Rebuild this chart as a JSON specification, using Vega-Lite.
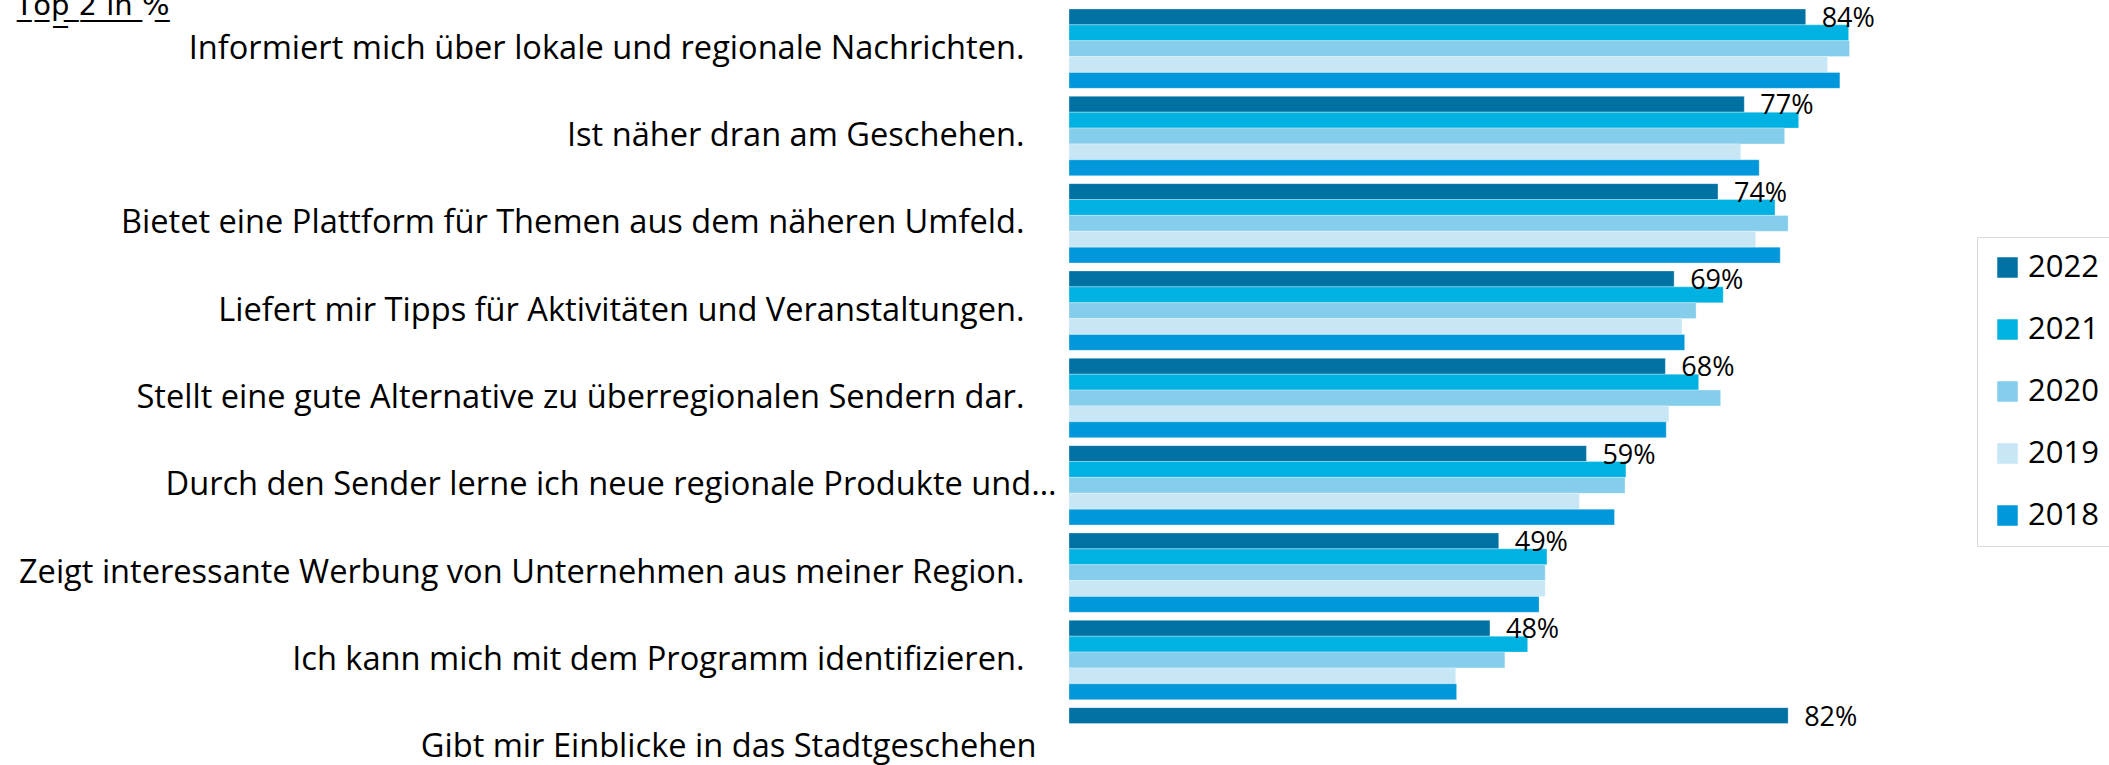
{
  "$schema": "https://vega.github.io/schema/vega-lite/v6.json",
  "width": 877,
  "height": 756,
  "autosize": {"type": "none"},
  "padding": {"left": 1069, "top": 9, "right": 163, "bottom": 0},
  "background": "white",
  "config": {"view": {"stroke": null}, "font": "Open Sans"},
  "title": {
    "text": "T̲o̲p̲ ̲2̲ ̲i̲n̲ ̲%̲",
    "anchor": "start",
    "frame": "bounds",
    "fontSize": 29,
    "fontWeight": "normal",
    "font": "DejaVu Sans",
    "color": "black",
    "baseline": "alphabetic",
    "offset": 0,
    "dy": 39,
    "dx": -3
  },
  "data": {
    "values": [
      {"category": "Informiert mich über lokale und regionale Nachrichten.", "year": "2022", "value": 0.84},
      {"category": "Informiert mich über lokale und regionale Nachrichten.", "year": "2021", "value": 0.889},
      {"category": "Informiert mich über lokale und regionale Nachrichten.", "year": "2020", "value": 0.89},
      {"category": "Informiert mich über lokale und regionale Nachrichten.", "year": "2019", "value": 0.865},
      {"category": "Informiert mich über lokale und regionale Nachrichten.", "year": "2018", "value": 0.879},
      {"category": "Ist näher dran am Geschehen.", "year": "2022", "value": 0.77},
      {"category": "Ist näher dran am Geschehen.", "year": "2021", "value": 0.832},
      {"category": "Ist näher dran am Geschehen.", "year": "2020", "value": 0.816},
      {"category": "Ist näher dran am Geschehen.", "year": "2019", "value": 0.766},
      {"category": "Ist näher dran am Geschehen.", "year": "2018", "value": 0.787},
      {"category": "Bietet eine Plattform für Themen aus dem näheren Umfeld.", "year": "2022", "value": 0.74},
      {"category": "Bietet eine Plattform für Themen aus dem näheren Umfeld.", "year": "2021", "value": 0.805},
      {"category": "Bietet eine Plattform für Themen aus dem näheren Umfeld.", "year": "2020", "value": 0.82},
      {"category": "Bietet eine Plattform für Themen aus dem näheren Umfeld.", "year": "2019", "value": 0.783},
      {"category": "Bietet eine Plattform für Themen aus dem näheren Umfeld.", "year": "2018", "value": 0.811},
      {"category": "Liefert mir Tipps für Aktivitäten und Veranstaltungen.", "year": "2022", "value": 0.69},
      {"category": "Liefert mir Tipps für Aktivitäten und Veranstaltungen.", "year": "2021", "value": 0.746},
      {"category": "Liefert mir Tipps für Aktivitäten und Veranstaltungen.", "year": "2020", "value": 0.715},
      {"category": "Liefert mir Tipps für Aktivitäten und Veranstaltungen.", "year": "2019", "value": 0.699},
      {"category": "Liefert mir Tipps für Aktivitäten und Veranstaltungen.", "year": "2018", "value": 0.702},
      {"category": "Stellt eine gute Alternative zu überregionalen Sendern dar.", "year": "2022", "value": 0.68},
      {"category": "Stellt eine gute Alternative zu überregionalen Sendern dar.", "year": "2021", "value": 0.718},
      {"category": "Stellt eine gute Alternative zu überregionalen Sendern dar.", "year": "2020", "value": 0.743},
      {"category": "Stellt eine gute Alternative zu überregionalen Sendern dar.", "year": "2019", "value": 0.684},
      {"category": "Stellt eine gute Alternative zu überregionalen Sendern dar.", "year": "2018", "value": 0.681},
      {"category": "Durch den Sender lerne ich neue regionale Produkte und…", "year": "2022", "value": 0.59},
      {"category": "Durch den Sender lerne ich neue regionale Produkte und…", "year": "2021", "value": 0.635},
      {"category": "Durch den Sender lerne ich neue regionale Produkte und…", "year": "2020", "value": 0.634},
      {"category": "Durch den Sender lerne ich neue regionale Produkte und…", "year": "2019", "value": 0.582},
      {"category": "Durch den Sender lerne ich neue regionale Produkte und…", "year": "2018", "value": 0.622},
      {"category": "Zeigt interessante Werbung von Unternehmen aus meiner Region.", "year": "2022", "value": 0.49},
      {"category": "Zeigt interessante Werbung von Unternehmen aus meiner Region.", "year": "2021", "value": 0.545},
      {"category": "Zeigt interessante Werbung von Unternehmen aus meiner Region.", "year": "2020", "value": 0.543},
      {"category": "Zeigt interessante Werbung von Unternehmen aus meiner Region.", "year": "2019", "value": 0.543},
      {"category": "Zeigt interessante Werbung von Unternehmen aus meiner Region.", "year": "2018", "value": 0.536},
      {"category": "Ich kann mich mit dem Programm identifizieren.", "year": "2022", "value": 0.48},
      {"category": "Ich kann mich mit dem Programm identifizieren.", "year": "2021", "value": 0.523},
      {"category": "Ich kann mich mit dem Programm identifizieren.", "year": "2020", "value": 0.497},
      {"category": "Ich kann mich mit dem Programm identifizieren.", "year": "2019", "value": 0.441},
      {"category": "Ich kann mich mit dem Programm identifizieren.", "year": "2018", "value": 0.442},
      {"category": "Gibt mir Einblicke in das Stadtgeschehen", "year": "2022", "value": 0.82}
    ]
  },
  "encoding": {
    "y": {
      "field": "category",
      "type": "nominal",
      "sort": null,
      "scale": {"paddingInner": 0.0916, "paddingOuter": 0, "range": [0, 778]},
      "axis": {
        "title": null,
        "ticks": false,
        "domain": false,
        "labelFont": "Open Sans",
        "labelFontSize": 32.6,
        "labelColor": "black",
        "labelLimit": 0,
        "labelPadding": {
          "condition": [
            {"test": "indexof(datum.label, 'Durch') == 0", "value": 13},
            {"test": "indexof(datum.label, 'Gibt') == 0", "value": 33}
          ],
          "value": 45
        }
      }
    },
    "yOffset": {
      "field": "year",
      "type": "nominal",
      "scale": {"domain": ["2022", "2021", "2020", "2019", "2018"], "paddingInner": 0, "paddingOuter": 0}
    },
    "x": {
      "field": "value",
      "type": "quantitative",
      "scale": {"domain": [0, 1], "nice": false},
      "axis": null
    }
  },
  "layer": [
    {
      "mark": {"type": "bar", "stroke": "white", "strokeWidth": 0.6, "strokeOpacity": 0.5},
      "encoding": {
        "color": {
          "field": "year",
          "type": "nominal",
          "scale": {
            "domain": ["2022", "2021", "2020", "2019", "2018"],
            "range": ["#0071a3", "#00b2e2", "#84cdeb", "#c7e6f6", "#0098da"]
          },
          "legend": {
            "title": null,
            "orient": "none",
            "legendX": 908,
            "legendY": 228,
            "symbolType": "square",
            "symbolSize": 420,
            "symbolStrokeWidth": 0,
            "labelFont": "Open Sans",
            "labelFontSize": 31,
            "labelColor": "black",
            "labelOffset": 5,
            "rowPadding": 30,
            "padding": 15,
            "strokeColor": "#d9d9d9",
            "fillColor": "white"
          }
        }
      }
    },
    {
      "transform": [{"filter": "datum.year == '2022'"}],
      "mark": {"type": "text", "align": "left", "baseline": "middle", "dx": 16, "dy": 2, "fontSize": 27, "font": "Open Sans", "color": "black"},
      "encoding": {
        "text": {"field": "value", "type": "quantitative", "format": ".0%"}
      }
    }
  ]
}
